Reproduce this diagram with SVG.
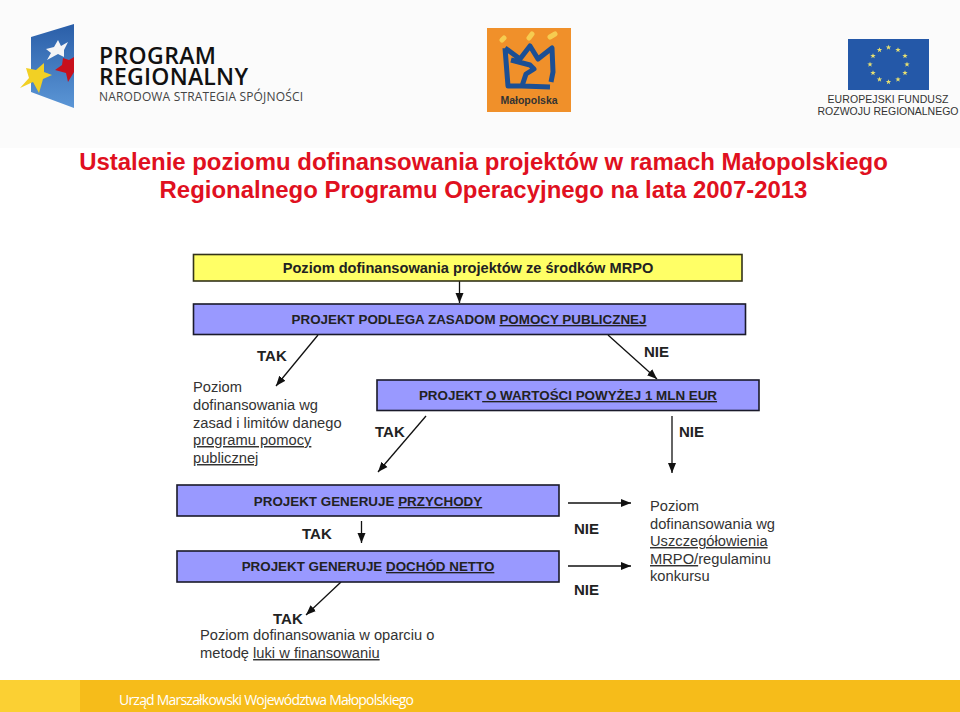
<svg xmlns="http://www.w3.org/2000/svg" width="960" height="712" viewBox="0 0 960 712">
<style>
text{font-family:"Liberation Sans",Arial,sans-serif;fill:#1a1a1a}
.b{font-weight:bold;font-size:13.4px;text-anchor:middle;fill:#222}
.l{font-weight:bold;font-size:15px;fill:#222}
.t{font-size:14.7px;fill:#333}
.h{font-weight:bold;font-size:23.95px;fill:#e01020;text-anchor:middle}
.box{fill:#9999ff;stroke:#1a1a2a;stroke-width:1.6}
.c{stroke:#111;stroke-width:1.3;fill:none;marker-end:url(#a)}
.s{fill:#e8e070}
</style>
<defs>
<marker id="a" markerUnits="userSpaceOnUse" markerWidth="11" markerHeight="9" refX="10" refY="4.500" orient="auto"><path d="M0 0.500L10 4.500L0 8.500Z" fill="#111"/></marker>
<linearGradient id="fl" x1="0" y1="0" x2="0" y2="1"><stop offset="0" stop-color="#2a5ea8"/><stop offset="1" stop-color="#5b96d6"/></linearGradient>
<path id="st" d="M0-2.800L.7-.9 2.700-.9 1.100.3 1.700 2.300 0 1.100-1.700 2.300-1.100.3-2.700-.9-.7-.9Z"/>
</defs>
<rect width="960" height="712" fill="#fff"/>
<rect width="960" height="148" fill="#fbfbfb"/>
<g id="logo-program">
<path d="M31 37L74 24V108L31 92Z" fill="url(#fl)"/>
<path d="M58 40L61 46L68 42L64 50L64 57L58 54L47 60L51 53L46 49L54 47Z" fill="#f4f4f6"/>
<path d="M63 58L69 60L74 57V72L68 82L66 73L55 70L62 65Z" fill="#c8101c"/>
<path d="M44 63L44 72L52 75L43 79L39 93L33 82L20 88L29 78L26 68L36 70Z" fill="#f2d024"/>
<text x="99" y="64" style="font-family:'Open Sans',sans-serif;font-weight:600;font-size:23px;fill:#111" textLength="117">PROGRAM</text>
<text x="99" y="85" style="font-family:'Open Sans',sans-serif;font-weight:600;font-size:23px;fill:#111" textLength="149">REGIONALNY</text>
<text x="99" y="101" style="font-family:'Open Sans',sans-serif;font-size:12px;fill:#444" textLength="204">NARODOWA STRATEGIA SPÓJNOŚCI</text>
</g>
<g id="logo-malopolska">
<rect x="487" y="28" width="84" height="84" fill="#f0902a"/>
<path d="M502 40L504 38M529 38L532 34M550 37L555 34" stroke="#f6cc50" stroke-width="5" stroke-linecap="round"/>
<path d="M505 48L520 59L530 46L538 59L552 48L553 72L551 82M505 48L508 86L522 86L526 74L534 69L530 65L511 60M522 86L550 87" fill="none" stroke="#1c4f94" stroke-width="5" stroke-linejoin="round"/>
<text x="529" y="104" style="font-weight:bold;font-size:10.5px;fill:#333;text-anchor:middle">Małopolska</text>
</g>
<g id="logo-eu">
<rect x="848" y="39" width="81" height="51" fill="#2458a8"/>
<g class="s">
<use href="#st" x="888.500" y="47.500"/><use href="#st" x="898" y="50"/><use href="#st" x="905" y="56"/><use href="#st" x="907" y="64.500"/><use href="#st" x="905" y="73"/><use href="#st" x="898" y="79.500"/><use href="#st" x="888.500" y="82"/><use href="#st" x="879.500" y="79.500"/><use href="#st" x="873" y="73"/><use href="#st" x="870" y="64.500"/><use href="#st" x="873" y="56"/><use href="#st" x="879.500" y="50"/>
</g>
<text x="888" y="103.300" style="font-size:10.500px;fill:#333;text-anchor:middle" textLength="121">EUROPEJSKI FUNDUSZ</text>
<text x="888" y="114.600" style="font-size:10.500px;fill:#333;text-anchor:middle" textLength="141">ROZWOJU REGIONALNEGO</text>
</g>
<g id="title">
<text class="h" x="483.500" y="170">Ustalenie poziomu dofinansowania projektów w ramach Małopolskiego</text>
<text class="h" x="483.500" y="198">Regionalnego Programu Operacyjnego na lata 2007-2013</text>
</g>
<g id="connectors">
<path class="c" d="M459.500 281V303"/>
<path class="c" d="M318 335L276 386"/>
<path class="c" d="M608 335L657 379"/>
<path class="c" d="M426 416L378 472"/>
<path class="c" d="M672 416V473"/>
<path class="c" d="M361.500 521V543"/>
<path class="c" d="M341 582L306 615"/>
<path class="c" d="M568 503H631"/>
<path class="c" d="M568 566H631"/>
</g>
<g id="node-poziom"><rect x="193.500" y="254.500" width="548.500" height="26.500" fill="#ffff66" stroke="#33331a" stroke-width="1.6"/><text class="b" x="468" y="273" style="font-size:14.6px">Poziom dofinansowania projektów ze środków MRPO</text></g>
<g id="node-pomoc"><rect class="box" x="193.500" y="304" width="552" height="30.500"/><text class="b" x="469" y="324">PROJEKT PODLEGA ZASADOM <tspan text-decoration="underline">POMOCY PUBLICZNEJ</tspan></text></g>
<g id="node-wartosc"><rect class="box" x="377" y="380" width="382" height="30.500"/><text class="b" x="568" y="400">PROJEKT<tspan text-decoration="underline"> O WARTOŚCI POWYŻEJ 1 MLN EUR</tspan></text></g>
<g id="node-przychody"><rect class="box" x="177" y="485" width="382" height="31"/><text class="b" x="368" y="506">PROJEKT GENERUJE <tspan text-decoration="underline">PRZYCHODY</tspan></text></g>
<g id="node-dochod"><rect class="box" x="177" y="551" width="382" height="31"/><text class="b" x="368" y="571">PROJEKT GENERUJE <tspan text-decoration="underline">DOCHÓD NETTO</tspan></text></g>
<g id="labels">
<text class="l" x="257" y="361">TAK</text>
<text class="l" x="644" y="357">NIE</text>
<text class="l" x="375" y="437">TAK</text>
<text class="l" x="679" y="437">NIE</text>
<text class="l" x="302" y="539">TAK</text>
<text class="l" x="574" y="534">NIE</text>
<text class="l" x="574" y="595">NIE</text>
<text class="l" x="273" y="624">TAK</text>
</g>
<g id="text-pomoc">
<text class="t" x="193" y="392">Poziom</text>
<text class="t" x="193" y="410">dofinansowania wg</text>
<text class="t" x="193" y="428">zasad i limitów danego</text>
<text class="t" x="193" y="445" text-decoration="underline">programu pomocy</text>
<text class="t" x="193" y="463" text-decoration="underline">publicznej</text>
</g>
<g id="text-mrpo">
<text class="t" x="650" y="511">Poziom</text>
<text class="t" x="650" y="529">dofinansowania wg</text>
<text class="t" x="650" y="546" text-decoration="underline">Uszczegółowienia</text>
<text class="t" x="650" y="564"><tspan text-decoration="underline">MRPO/</tspan>regulaminu</text>
<text class="t" x="650" y="581">konkursu</text>
</g>
<g id="text-luka">
<text class="t" x="200" y="640">Poziom dofinansowania w oparciu o</text>
<text class="t" x="200" y="658">metodę <tspan text-decoration="underline">luki w finansowaniu</tspan></text>
</g>
<g id="footer">
<rect y="680" width="960" height="32" fill="#f6bc1a"/>
<rect y="680" width="80" height="32" fill="#fbd033"/>
<text x="119" y="705" style="font-family:'Open Sans',sans-serif;font-size:14px;fill:#fff" textLength="295">Urząd Marszałkowski Województwa Małopolskiego</text>
</g>
</svg>
